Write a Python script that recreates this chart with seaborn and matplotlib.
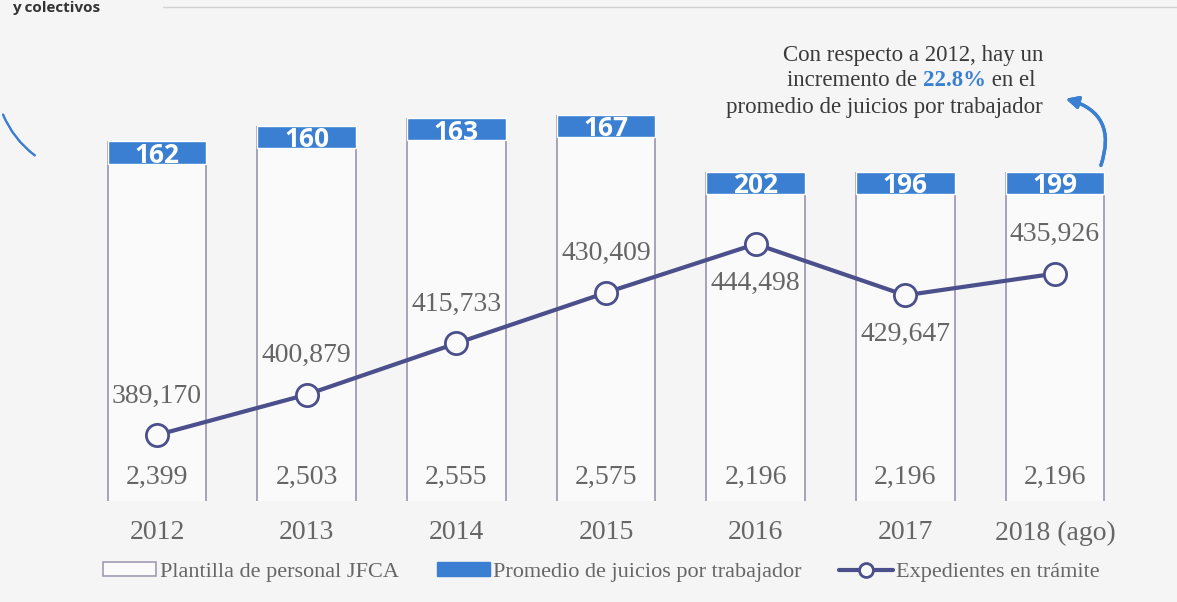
import pandas as pd
import seaborn as sns
import matplotlib.pyplot as plt
from matplotlib.patches import Patch
from matplotlib.lines import Line2D

# data
years = ['2012', '2013', '2014', '2015', '2016', '2017', '2018 (ago)']
plantilla = [2399, 2503, 2555, 2575, 2196, 2196, 2196]
promedio = [162, 160, 163, 167, 202, 196, 199]
expedientes = [389170, 400879, 415733, 430409, 444498, 429647, 435926]
label_side = [1, 1, 1, 1, -1, -1, 1]  # value label above (1) or below (-1) the point

df = pd.DataFrame({'year': years, 'plantilla': plantilla,
                   'promedio': promedio, 'expedientes': expedientes})

sns.set_theme(style='white')
plt.rcParams['font.family'] = ['Liberation Serif', 'DejaVu Serif']

bg = '#f4f5f4'
blue = '#3b7fd2'
navy = '#4b4f8c'
edge = '#a39bb3'
grey = '#666666'

W, H = 1177, 602
fig = plt.figure(figsize=(W / 100, H / 100), dpi=100, facecolor=bg)
ax = fig.add_axes([40 / W, 101 / H, 1100 / W, 471 / H])
ax.set_facecolor('none')

# bars: plantilla de personal
bw = 0.66
sns.barplot(data=df, x='year', y='plantilla', ax=ax, color='#f9faf9',
            saturation=1, width=bw, linewidth=0, edgecolor='none')
for p in list(ax.patches):
    ax.vlines([p.get_x(), p.get_x() + p.get_width()], 0, p.get_height(),
              color=edge, lw=1.3, zorder=3)

# blue cap on top of each bar with the average per worker
cap_h = 150
ax.bar(range(len(df)), cap_h, bottom=df['plantilla'] - cap_h, width=bw,
       color=blue, zorder=4)
for i, (p, v) in enumerate(zip(df['plantilla'], df['promedio'])):
    ax.text(i, p - cap_h / 2, str(v), ha='center', va='center_baseline',
            color='white', fontsize=19, fontweight='bold',
            family=['Open Sans', 'DejaVu Sans'], zorder=5)
    ax.annotate(f'{df["plantilla"][i]:,}', (i, 0), xytext=(0, 17),
                textcoords='offset points', ha='center', va='center',
                color=grey, fontsize=20, zorder=5)

ax.set_ylim(0, 3140)
ax.set_xlim(-0.782, 6.568)
ax.set_xlabel('')
ax.set_ylabel('')
ax.set_yticks([])
ax.tick_params(axis='x', length=0, pad=14, labelsize=20, labelcolor=grey)
sns.despine(ax=ax, left=True, bottom=True)

# line: expedientes en tramite
ax2 = ax.twinx()
sns.lineplot(x=list(range(len(df))), y=df['expedientes'], ax=ax2, color=navy,
             lw=3, marker='o', markersize=16, markerfacecolor='#f9faf9',
             markeredgecolor=navy, markeredgewidth=2, zorder=6)
for i, (v, s) in enumerate(zip(df['expedientes'], label_side)):
    ax2.annotate(f'{v:,}', (i, v), xytext=(0, 28 * s), textcoords='offset points',
                 ha='center', va='center', color=grey, fontsize=20, zorder=7)
ax2.set_ylim(370050, 506500)
ax2.set_yticks([])
ax2.set_ylabel('')
sns.despine(ax=ax2, left=True, bottom=True, right=True)

# legend
handles = [Patch(facecolor='#f9faf9', edgecolor=edge, lw=1.2),
           Patch(facecolor=blue, edgecolor=blue),
           Line2D([], [], color=navy, lw=3, marker='o', markersize=10,
                  markerfacecolor='#f9faf9', markeredgecolor=navy, markeredgewidth=2)]
labels = ['Plantilla de personal JFCA', 'Promedio de juicios por trabajador',
          'Expedientes en trámite']
fig.legend(handles, labels, loc='center', bbox_to_anchor=(0.511, 1 - 572 / H),
           ncol=3, frameon=False, fontsize=16, labelcolor=grey,
           handlelength=2.4, handleheight=0.55, handletextpad=0.15, columnspacing=1.7)

# annotation text, right aligned
xr = 1043 / W
tc = '#3a3a3a'
fs = 16.5
fig.text(xr, 1 - 55 / H, 'Con respecto a 2012, hay un', ha='right', va='center',
         fontsize=fs, color=tc)
fig.text(xr, 1 - 107 / H, 'promedio de juicios por trabajador', ha='right', va='center',
         fontsize=fs, color=tc)
t3 = fig.text(xr - 8 / W, 1 - 81 / H, ' en el', ha='right', va='center', fontsize=fs, color=tc)
fig.canvas.draw()
x0 = t3.get_window_extent().x0 / W
t2 = fig.text(x0, 1 - 81 / H, '22.8%', ha='right', va='center', fontsize=fs,
              color=blue, fontweight='bold')
fig.canvas.draw()
x0 = t2.get_window_extent().x0 / W
fig.text(x0, 1 - 81 / H, 'incremento de ', ha='right', va='center', fontsize=fs, color=tc)

# hand drawn arrow and pen stroke
fig.add_artist(plt.annotate('', xy=(1063, H - 98), xytext=(1100, H - 168),
                            xycoords='figure pixels', textcoords='figure pixels',
                            arrowprops=dict(arrowstyle='-|>', color=blue, lw=2.4,
                                            mutation_scale=18,
                                            connectionstyle='arc3,rad=0.55')))
fig.add_artist(plt.annotate('', xy=(37, H - 157), xytext=(2, H - 112),
                            xycoords='figure pixels', textcoords='figure pixels',
                            arrowprops=dict(arrowstyle='-', color=blue, lw=1.5,
                                            connectionstyle='arc3,rad=0.15')))

# heading and rule at the top of the page
fig.text(12 / W, 1 - 12 / H, 'y colectivos', ha='left', va='baseline', fontsize=11,
         fontweight='bold', color='#333333', family=['Open Sans', 'DejaVu Sans'])
fig.add_artist(Line2D([163 / W, 1], [1 - 7 / H, 1 - 7 / H], color='#d0d3d0', lw=1))

fig.savefig('out.png', dpi=100, facecolor=bg)
